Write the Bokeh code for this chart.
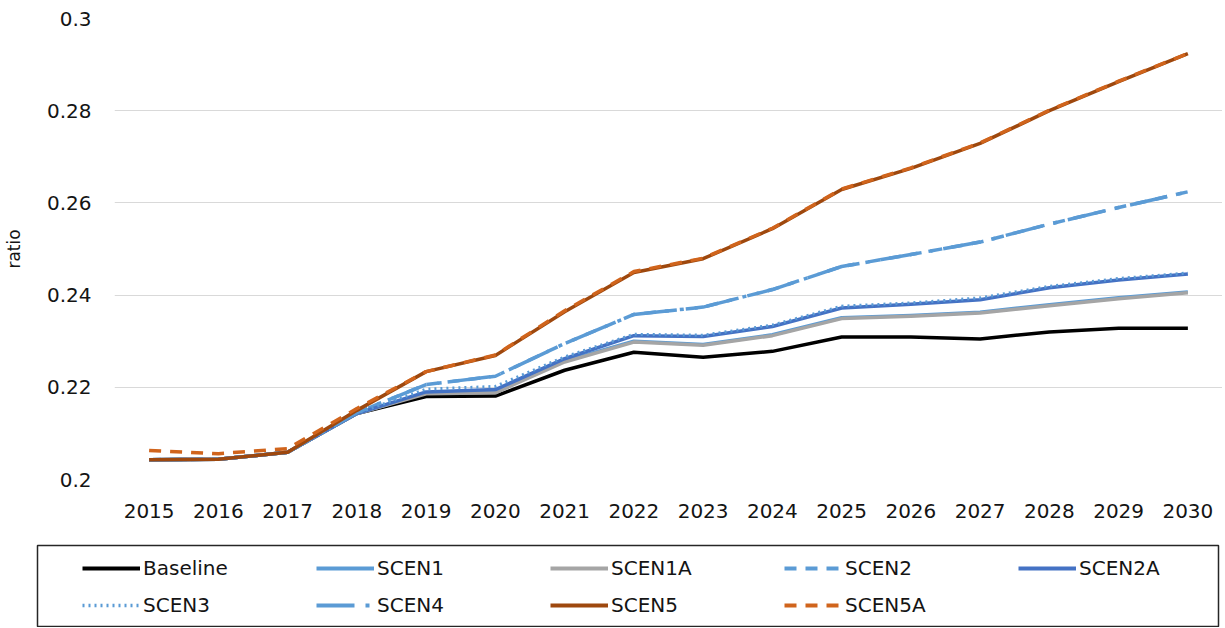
from bokeh.plotting import figure
from bokeh.layouts import column
from bokeh.models import FactorRange, Range1d, FixedTicker, Legend, LegendItem
from bokeh.embed import file_html
from bokeh.resources import INLINE

years = [str(y) for y in range(2015, 2031)]

baseline = [0.2043, 0.2044, 0.2059, 0.2143, 0.2180, 0.2181, 0.2237, 0.2276, 0.2265, 0.2278, 0.2309, 0.2309, 0.2305, 0.2320, 0.2328, 0.2328]
scen1 = [0.2043, 0.2044, 0.2059, 0.2143, 0.2188, 0.2190, 0.2257, 0.2300, 0.2293, 0.2314, 0.2351, 0.2356, 0.2363, 0.2379, 0.2394, 0.2407]
scen1a = [0.2043, 0.2044, 0.2059, 0.2143, 0.2186, 0.2188, 0.2255, 0.2298, 0.2291, 0.2312, 0.2349, 0.2354, 0.2361, 0.2377, 0.2392, 0.2405]
scen2 = [0.2043, 0.2044, 0.2059, 0.2145, 0.2206, 0.2224, 0.2295, 0.2358, 0.2374, 0.2412, 0.2462, 0.2488, 0.2515, 0.2554, 0.2590, 0.2624]
scen2a = [0.2043, 0.2044, 0.2059, 0.2143, 0.2190, 0.2195, 0.2262, 0.2312, 0.2310, 0.2332, 0.2372, 0.2380, 0.2390, 0.2416, 0.2433, 0.2446]
scen3 = [0.2043, 0.2044, 0.2059, 0.2144, 0.2196, 0.2202, 0.2266, 0.2315, 0.2313, 0.2335, 0.2376, 0.2383, 0.2394, 0.2419, 0.2436, 0.2448]
scen4 = [0.2043, 0.2044, 0.2059, 0.2145, 0.2206, 0.2224, 0.2295, 0.2358, 0.2374, 0.2412, 0.2462, 0.2488, 0.2515, 0.2554, 0.2590, 0.2624]
scen5 = [0.2043, 0.2044, 0.2059, 0.2150, 0.2234, 0.2269, 0.2364, 0.2449, 0.2479, 0.2544, 0.2629, 0.2675, 0.2729, 0.2800, 0.2863, 0.2924]
scen5a = [0.2063, 0.2056, 0.2067, 0.2154, 0.2234, 0.2270, 0.2366, 0.2451, 0.2480, 0.2545, 0.2630, 0.2676, 0.2730, 0.2801, 0.2864, 0.2924]

yticks = [0.2, 0.22, 0.24, 0.26, 0.28, 0.3]
ytick_labels = ["0.2", "0.22", "0.24", "0.26", "0.28", "0.3"]

series_names = ["Baseline", "SCEN1", "SCEN1A", "SCEN2", "SCEN2A", "SCEN3", "SCEN4", "SCEN5", "SCEN5A"]
series_values = [baseline, scen1, scen1a, scen2, scen2a, scen3, scen4, scen5, scen5a]
styles = [
    dict(color="#000000", dash="solid", width=3.5),
    dict(color="#5B9BD5", dash="solid", width=3.5),
    dict(color="#A5A5A5", dash="solid", width=3.5),
    dict(color="#5B9BD5", dash="12 9", width=3.5),
    dict(color="#4472C4", dash="solid", width=3.5),
    dict(color="#5B9BD5", dash="2 4", width=3),
    dict(color="#5B9BD5", dash="38 11 4 11", width=3.5),
    dict(color="#9E480E", dash="solid", width=3.5),
    dict(color="#D0641C", dash="12 9", width=3.5),
]

FONT = "DejaVu Sans"
TXT = "#141414"
W = 1222

p = figure(width=W, height=539, x_range=FactorRange(*years), y_range=Range1d(0.2, 0.3),
           output_backend="svg", toolbar_location=None,
           min_border_left=108, min_border_right=0, min_border_top=18, min_border_bottom=60)
p.outline_line_color = None

p.xgrid.grid_line_color = None
p.ygrid.grid_line_color = "#D9D9D9"
p.ygrid.grid_line_width = 1

p.yaxis.ticker = FixedTicker(ticks=yticks)
p.yaxis.major_label_overrides = {t: l for t, l in zip(yticks, ytick_labels)}
for ax in (p.xaxis, p.yaxis):
    ax.axis_line_color = None
    ax.major_tick_line_color = None
    ax.minor_tick_line_color = None
    ax.major_tick_out = 0
    ax.major_tick_in = 0
    ax.minor_tick_out = 0
    ax.major_label_text_font = FONT
    ax.major_label_text_font_size = "20px"
    ax.major_label_text_color = TXT
p.yaxis.major_label_standoff = 23
p.xaxis.major_label_standoff = 24
p.yaxis.axis_label = "ratio"
p.yaxis.axis_label_text_font = FONT
p.yaxis.axis_label_text_font_size = "17px"
p.yaxis.axis_label_text_font_style = "normal"
p.yaxis.axis_label_text_color = TXT
p.yaxis.axis_label_standoff = 20

for vals, st in zip(series_values, styles):
    p.line(years, vals, line_color=st["color"], line_width=st["width"], line_dash=st["dash"],
           line_join="round")

# legend panel: its frame outline is the legend box
lg = figure(width=W, height=88, x_range=FactorRange(*years), y_range=Range1d(0.2, 0.3),
            x_axis_type=None, y_axis_type=None, output_backend="svg", toolbar_location=None,
            min_border_left=37, min_border_right=W - 1218, min_border_top=6, min_border_bottom=1)
lg.grid.grid_line_color = None
lg.outline_line_color = "#262626"
lg.outline_line_width = 1.5

items = []
for name, vals, st in zip(series_names, series_values, styles):
    r = lg.line(years, vals, line_color=st["color"], line_width=st["width"] + 0.5, line_dash=st["dash"])
    r.visible = False
    items.append(LegendItem(label=name, renderers=[r]))

legend = Legend(items=items, orientation="horizontal", ncols=5, location=(45, 8),
                glyph_width=58, glyph_height=26, label_height=26, label_standoff=3,
                label_width=162, spacing=11, padding=0, margin=0,
                label_text_font=FONT, label_text_font_size="20px", label_text_color=TXT,
                border_line_alpha=0, background_fill_alpha=0, click_policy="none")
lg.add_layout(legend, "center")

for f in (p, lg):
    if "frame_align" in f.properties():
        f.frame_align = False

layout = column(p, lg, spacing=0)
open("out.html", "w").write(file_html(layout, INLINE))
